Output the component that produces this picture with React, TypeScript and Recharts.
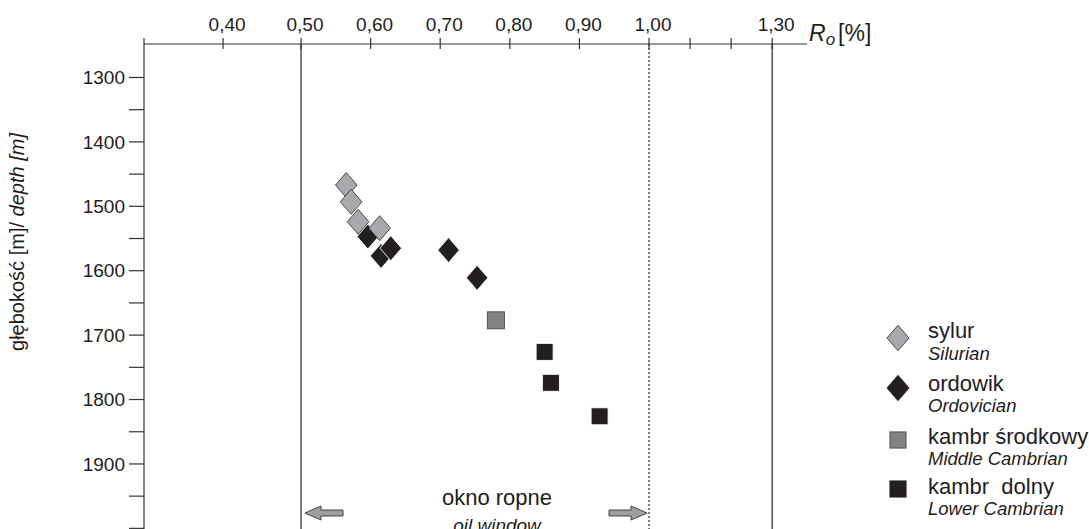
import { ScatterChart, Scatter, XAxis, YAxis, ReferenceLine, ReferenceArea } from "recharts";

const FONT = '"Liberation Sans", Arial, Helvetica, sans-serif';
const INK = "#1f1c1d";

// top axis: vitrinite reflectance Ro [%]
const roTicks = [0.4, 0.5, 0.6, 0.7, 0.8, 0.9, 1.0, 1.1, 1.2, 1.3];
const roTickLabels = ["0,40", "0,50", "0,60", "0,70", "0,80", "0,90", "1,00", "", "", "1,30"];

// left axis: depth [m]
const depthTicks = [1300, 1350, 1400, 1450, 1500, 1550, 1600, 1650, 1700, 1750, 1800, 1850, 1900, 1950, 2000];
const depthTickLabels = ["1300", "", "1400", "", "1500", "", "1600", "", "1700", "", "1800", "", "1900", "", ""];

// oil window limits
const oilWindowRo = [0.5, 1.0];
const extraLineRo = 1.3;

// samples
const sylurRo = [0.565, 0.572, 0.582, 0.613];
const sylurDepth = [1467, 1493, 1524, 1534];

const ordowikRo = [0.596, 0.615, 0.629, 0.712, 0.753];
const ordowikDepth = [1547, 1577, 1565, 1568, 1611];

const kambrSrRo = [0.78];
const kambrSrDepth = [1677];

const kambrDolnyRo = [0.85, 0.859, 0.929];
const kambrDolnyDepth = [1726, 1774, 1826];

// the printed Ro axis is not linear: 0.4-0.5 is stretched, 1.0-1.3 squeezed
const axisRoKnots = [0.4, 0.5, 1.0, 1.3];
const axisPosKnots = [0.388, 0.5, 1.0, 1.177];
const xDomain: [number, number] = [0.2744, 1.227];

function roToPos(ro: number) {
  const k = axisRoKnots;
  const p = axisPosKnots;
  let i = 0;
  while (i < k.length - 2 && ro > k[i + 1]) i++;
  return p[i] + ((ro - k[i]) * (p[i + 1] - p[i])) / (k[i + 1] - k[i]);
}

const toPoints = (ro: number[], depth: number[]) => ro.map((r, i) => ({ x: roToPos(r), y: depth[i] }));

type Series = {
  name: string;
  nameEn: string;
  data: { x: number; y: number }[];
  kind: "diamond" | "square";
  fill: string;
  stroke: string;
};

const sylur: Series = { name: "sylur", nameEn: "Silurian", data: toPoints(sylurRo, sylurDepth), kind: "diamond", fill: "#a7a9ac", stroke: "#3a3a3a" };
const ordowik: Series = { name: "ordowik", nameEn: "Ordovician", data: toPoints(ordowikRo, ordowikDepth), kind: "diamond", fill: "#231f20", stroke: "#ffffff" };
const kambrSr: Series = { name: "kambr środkowy", nameEn: "Middle Cambrian", data: toPoints(kambrSrRo, kambrSrDepth), kind: "square", fill: "#808285", stroke: "#4a4a4a" };
const kambrDolny: Series = { name: "kambr  dolny", nameEn: "Lower Cambrian", data: toPoints(kambrDolnyRo, kambrDolnyDepth), kind: "square", fill: "#231f20", stroke: "#ffffff" };

const legendOrder = [sylur, ordowik, kambrSr, kambrDolny];
const drawOrder = [kambrDolny, kambrSr, ordowik, sylur];

function Marker({ s, cx, cy, scale = 1 }: { s: Series; cx: number; cy: number; scale?: number }) {
  if (s.kind === "diamond") {
    const w = 10.8 * scale;
    const h = 12.5 * scale;
    return (
      <polygon
        points={`${cx},${cy - h} ${cx + w},${cy} ${cx},${cy + h} ${cx - w},${cy}`}
        fill={s.fill}
        stroke={s.stroke}
        strokeWidth={0.9}
      />
    );
  }
  const a = 8.5 * scale;
  return <rect x={cx - a} y={cy - a} width={a * 2} height={a * 2} fill={s.fill} stroke={s.stroke} strokeWidth={0.9} />;
}

function TopTick(props: any) {
  const { x, y, index } = props;
  const label = roTickLabels[index] ?? "";
  return (
    <g>
      <line x1={x} x2={x} y1={y - 6} y2={y + 5} stroke="#333" strokeWidth={1.2} />
      {label && (
        <text x={x + 4} y={y - 13} textAnchor="middle" fontSize={19} fill={INK}>
          {label}
        </text>
      )}
    </g>
  );
}

function RoLabel(props: any) {
  const vb = props.viewBox || { x: 144, y: 0, width: 663, height: 44 };
  const x = vb.x + vb.width + 2;
  return (
    <g>
      {/* y axis line pokes a little above the top axis */}
      <line x1={vb.x} x2={vb.x} y1={vb.y + vb.height - 6} y2={vb.y + vb.height} stroke="#333" strokeWidth={1.2} />
      <text x={x} y={41} fontSize={23} fill={INK}>
        <tspan fontStyle="italic">R</tspan>
        <tspan fontStyle="italic" fontSize={17} dy={4}>o</tspan>
        <tspan dy={-4} dx={3}>[%]</tspan>
      </text>
    </g>
  );
}

function DepthLabel() {
  return (
    <text x={24} y={242} transform="rotate(-90, 24, 242)" textAnchor="middle" fontSize={20} fill={INK}>
      głębokość [m]/ <tspan fontStyle="italic">depth [m]</tspan>
    </text>
  );
}

function Arrow({ tip, cy, dir }: { tip: number; cy: number; dir: 1 | -1 }) {
  // dir -1 points left, 1 points right
  const f = (d: number) => tip - dir * d;
  const pts = [
    [tip, cy],
    [f(16), cy - 7],
    [f(16), cy - 3],
    [f(38), cy - 3],
    [f(38), cy + 3],
    [f(16), cy + 3],
    [f(16), cy + 7],
  ]
    .map((p) => p.join(","))
    .join(" ");
  return <polygon points={pts} fill="#9d9fa2" stroke="#333" strokeWidth={0.9} />;
}

function lineBox(vb: any) {
  const x = vb?.x ?? 0;
  const y = vb?.y ?? 0;
  const h = vb?.height ?? 0;
  const top = Math.min(y, y + h);
  return { x, top, bottom: top + Math.abs(h), width: vb?.width ?? 0 };
}

function LeftArrowLabel(props: any) {
  const b = lineBox(props.viewBox);
  return <Arrow tip={b.x + 4} cy={b.bottom - 16} dir={-1} />;
}

function RightArrowLabel(props: any) {
  const b = lineBox(props.viewBox);
  return <Arrow tip={b.x - 2} cy={b.bottom - 16} dir={1} />;
}

function OilWindowLabel(props: any) {
  const b = lineBox(props.viewBox);
  const cx = b.x + b.width / 2 + 22;
  return (
    <g>
      <text x={cx} y={b.bottom - 24} textAnchor="middle" fontSize={22} fill={INK}>
        okno ropne
      </text>
      <text x={cx} y={b.bottom + 3} textAnchor="middle" fontSize={19} fontStyle="italic" fill={INK}>
        oil window
      </text>
    </g>
  );
}

function LegendBox() {
  const rows = [
    { cy: 338, t1: 338, t2: 360 },
    { cy: 388, t1: 391, t2: 412 },
    { cy: 440, t1: 444, t2: 465 },
    { cy: 489, t1: 494, t2: 515 },
  ];
  return (
    <svg width={1089} height={529} style={{ position: "absolute", left: 0, top: 0, pointerEvents: "none" }}>
      {legendOrder.map((s, i) => (
        <g key={s.name}>
          <Marker s={{ ...s, stroke: s.stroke === "#ffffff" ? s.fill : s.stroke }} cx={898} cy={rows[i].cy} scale={s.kind === "diamond" ? 1.02 : 0.95} />
          <text x={928} y={rows[i].t1} fontSize={22} fill={INK} style={{ whiteSpace: "pre" }}>
            {s.name}
          </text>
          <text x={928} y={rows[i].t2} fontSize={18.5} fontStyle="italic" fill={INK}>
            {s.nameEn}
          </text>
        </g>
      ))}
    </svg>
  );
}

export default function App() {
  return (
    <div style={{ position: "absolute", left: 0, top: 0, width: 1089, height: 529, overflow: "hidden", background: "#fff", fontFamily: FONT }}>
      <ScatterChart width={1089} height={529} margin={{ top: 0, right: 282, bottom: 0, left: 0 }}>
        <XAxis
          type="number"
          dataKey="x"
          orientation="top"
          domain={xDomain}
          ticks={roTicks.map(roToPos)}
          interval={0}
          height={44}
          tickSize={0}
          tickMargin={0}
          tickLine={false}
          tick={TopTick}
          axisLine={{ stroke: "#333", strokeWidth: 1.2 }}
          allowDataOverflow
          label={RoLabel}
        />
        <YAxis
          type="number"
          dataKey="y"
          reversed
          domain={[1248, 2001]}
          ticks={depthTicks}
          interval={0}
          width={144}
          tickSize={15}
          tickMargin={4}
          tickFormatter={(v: number) => depthTickLabels[depthTicks.indexOf(v)] ?? ""}
          tick={{ fill: INK, fontSize: 19 }}
          tickLine={{ stroke: "#333", strokeWidth: 1.2 }}
          axisLine={{ stroke: "#333", strokeWidth: 1.2 }}
          allowDataOverflow
          label={DepthLabel}
        />
        <ReferenceArea x1={roToPos(oilWindowRo[0])} x2={roToPos(oilWindowRo[1])} fillOpacity={0} strokeOpacity={0} label={OilWindowLabel} />
        <ReferenceLine x={roToPos(oilWindowRo[0])} stroke="#333" strokeWidth={1.3} label={LeftArrowLabel} />
        <ReferenceLine x={roToPos(oilWindowRo[1])} stroke="#333" strokeWidth={1.3} strokeDasharray="2 2" label={RightArrowLabel} />
        <ReferenceLine x={roToPos(extraLineRo)} stroke="#333" strokeWidth={1.3} />
        {drawOrder.map((s) => (
          <Scatter
            key={s.name}
            name={s.name}
            data={s.data}
            isAnimationActive={false}
            shape={(p: any) => <Marker s={s} cx={p.cx} cy={p.cy} />}
          />
        ))}
      </ScatterChart>
      <LegendBox />
    </div>
  );
}
